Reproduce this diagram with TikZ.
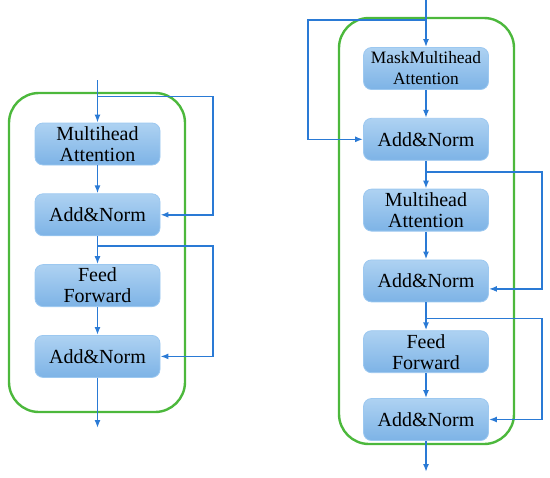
\documentclass[tikz,border=0pt]{standalone}
\usepackage{fontspec}
\setmainfont{Liberation Serif}
\newfontfamily\blockfont{Liberation Serif}
\usetikzlibrary{positioning,arrows.meta,calc}
\definecolor{flowblue}{HTML}{2A7AD5}
\definecolor{boxtop}{HTML}{AED2F2}
\definecolor{boxbot}{HTML}{7DB3E6}
\definecolor{boxedge}{HTML}{9CC8F0}
\definecolor{framegreen}{HTML}{4CB83C}
\begin{document}
\begin{tikzpicture}[
  x=0.5pt, y=-0.5pt,
  node distance=14pt,
  block/.style={draw=boxedge, rounded corners=4pt, top color=boxtop, bottom color=boxbot, minimum width=62.5pt, minimum height=21pt, inner sep=0pt, align=center, font=\blockfont\fontsize{10}{10.5}\selectfont},
  frame/.style={draw=framegreen, line width=1.2pt, rounded corners=15pt},
  flow/.style={draw=flowblue, line width=0.8pt, -{Latex[length=4pt,width=3pt]}}
]
\useasboundingbox (0,0) rectangle (550,477);

% Frames
\draw[frame] (9,93) rectangle (185,412);
\draw[frame] (339,18) rectangle (514,444);

% Left stack: encoder
\node[block] (LA) at (97.5,144) {Multihead\\Attention};
\node[block, below=of LA] (LN1) {Add\&Norm};
\node[block, below=of LN1] (LF) {Feed\\Forward};
\node[block, below=of LF] (LN2) {Add\&Norm};

% Right stack: decoder
\node[block, font=\blockfont\fontsize{8.7}{10.5}\selectfont] (RM) at (426,68.5) {MaskMultihead\\Attention};
\node[block, below=of RM] (RN1) {Add\&Norm};
\node[block, below=of RN1] (RA) {Multihead\\Attention};
\node[block, below=of RA] (RN2) {Add\&Norm};
\node[block, below=of RN2] (RF) {Feed\\Forward};
\node[block, below=12.5pt of RF] (RN3) {Add\&Norm};

% Free ends and skip columns
\coordinate (inL) at (97.5,80);
\coordinate (outL) at (97.5,428);
\coordinate (colL) at (213,0);
\coordinate (inR) at (426,0);
\coordinate (outR) at (426,472);
\coordinate (colR1) at (308,0);
\coordinate (colR2) at (542,0);
\coordinate (RN2in) at ([yshift=-4pt]RN2.east);

% Left flow
\draw[flow] (inL) -- (LA.north);
\draw[flow] (LA.south) -- (LN1.north);
\draw[flow] (LN1.south) -- (LF.north);
\draw[flow] (LF.south) -- (LN2.north);
\draw[flow] (LN2.south) -- (outL);
\draw[flow] ([yshift=13pt]LA.north) -| (colL |- LN1.east) -- (LN1.east);
\draw[flow] ([yshift=-5pt]LN1.south) -| (colL |- LN2.east) -- (LN2.east);

% Right flow
\draw[flow] (inR) -- (RM.north);
\draw[flow] (RM.south) -- (RN1.north);
\draw[flow] (RN1.south) -- (RA.north);
\draw[flow] (RA.south) -- (RN2.north);
\draw[flow] (RN2.south) -- (RF.north);
\draw[flow] (RF.south) -- (RN3.north);
\draw[flow] (RN3.south) -- (outR);
\draw[flow] ([yshift=13.5pt]RM.north) -| (colR1 |- RN1.west) -- (RN1.west);
\draw[flow] ([yshift=-5.5pt]RN1.south) -| (colR2 |- RN2in) -- (RN2in);
\draw[flow] ([yshift=-8pt]RN2.south) -| (colR2 |- RN3.east) -- (RN3.east);
\end{tikzpicture}
\end{document}
